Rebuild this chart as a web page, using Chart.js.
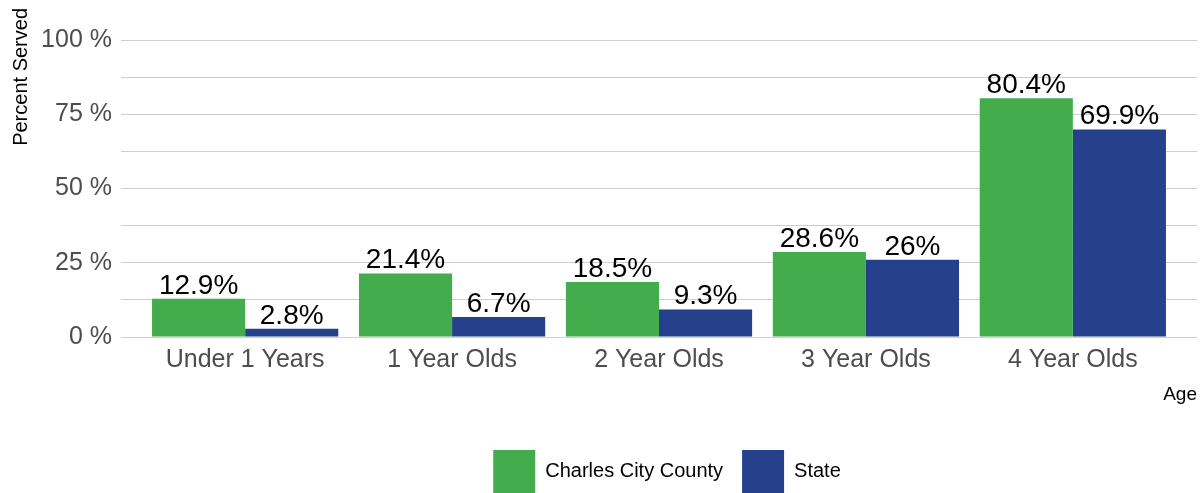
<!DOCTYPE html>
<html>
<head>
<meta charset="utf-8">
<script src="https://cdn.jsdelivr.net/npm/chart.js@4.4.1/dist/chart.umd.min.js"></script>
<style>
  html, body { margin: 0; padding: 0; background: #fff; overflow: hidden; }
  #wrap { width: 1203px; height: 503px; position: relative; }
</style>
</head>
<body>
<div id="wrap"><canvas id="ageChart"></canvas></div>
<script>
// values
var ages = ['Under 1 Years', '1 Year Olds', '2 Year Olds', '3 Year Olds', '4 Year Olds'];
var county = [12.9, 21.4, 18.5, 28.6, 80.4];
var state = [2.8, 6.7, 9.3, 26, 69.9];
var seriesNames = ['Charles City County', 'State'];
var yTicks = [0, 25, 50, 75, 100];

var font = "'Liberation Sans', Arial, sans-serif";

function points(vals) {
    return vals.map(function (v, i) { return { x: i + 1, y: v }; });
}

// value labels above each bar
var barLabels = {
    id: 'barLabels',
    afterDatasetsDraw: function (chart) {
        var ctx = chart.ctx;
        ctx.save();
        ctx.font = '28px ' + font;
        ctx.fillStyle = '#000';
        ctx.textAlign = 'center';
        ctx.textBaseline = 'alphabetic';
        chart.data.datasets.forEach(function (ds, di) {
            chart.getDatasetMeta(di).data.forEach(function (bar, i) {
                ctx.fillText(ds.data[i].y + '%', bar.x, bar.y - 5);
            });
        });
        ctx.restore();
    }
};

// y axis title sits at the top left, above the plot area
var yTitle = {
    id: 'yTitle',
    afterDraw: function (chart) {
        var ctx = chart.ctx;
        ctx.save();
        ctx.translate(21, 8);
        ctx.rotate(-Math.PI / 2);
        ctx.font = '20px ' + font;
        ctx.fillStyle = '#000';
        ctx.textAlign = 'right';
        ctx.textBaseline = 'middle';
        ctx.fillText('Percent Served', 0, 0);
        ctx.restore();
    }
};

// centre the legend under the plot panel instead of the whole canvas
var legendUnderPanel = {
    id: 'legendUnderPanel',
    afterLayout: function (chart) {
        var lg = chart.legend, ca = chart.chartArea;
        if (!lg) return;
        lg.left = ca.left + 8;
        lg.right = ca.right + 8;
        lg.width = lg.right - lg.left;
    }
};

var ctx = document.getElementById('ageChart').getContext('2d');
var myBarChart = new Chart(ctx, {
    type: 'bar',
    data: {
        datasets: [{
            label: seriesNames[0],
            backgroundColor: '#43AC4C',
            data: points(county)
        }, {
            label: seriesNames[1],
            backgroundColor: '#26418C',
            data: points(state)
        }]
    },
    options: {
        responsive: true,
        maintainAspectRatio: false,
        animation: false,
        layout: { padding: { top: 40, right: 6, left: 0, bottom: 0 } },
        datasets: { bar: { categoryPercentage: 0.9, barPercentage: 1 } },
        scales: {
            x: {
                type: 'linear',
                offset: false,
                min: 0.4,
                max: 5.6,
                grid: { display: false },
                border: { display: false },
                afterBuildTicks: function (s) {
                    s.ticks = ages.map(function (a, i) { return { value: i + 1 }; });
                },
                afterFit: function (s) { s.height = 94; },
                ticks: {
                    padding: 0,
                    color: '#4d4d4d',
                    font: { family: font, size: 25 },
                    maxRotation: 0,
                    autoSkip: false,
                    callback: function (v) { return ages[v - 1]; }
                },
                title: {
                    display: true,
                    text: 'Age',
                    align: 'end',
                    color: '#000',
                    font: { family: font, size: 19 },
                    padding: { top: 0, bottom: 25 }
                }
            },
            y: {
                min: 0,
                max: 100,
                border: { display: false },
                grid: { color: '#cfcfcf', lineWidth: 1, drawTicks: false },
                afterFit: function (s) { s.width = 121; },
                ticks: {
                    stepSize: 12.5,
                    padding: 9,
                    color: '#4d4d4d',
                    font: { family: font, size: 25 },
                    callback: function (v) { return yTicks.indexOf(v) >= 0 ? v + ' %' : ''; }
                }
            }
        },
        plugins: {
            tooltip: { enabled: false },
            legend: {
                position: 'bottom',
                labels: {
                    boxWidth: 42,
                    boxHeight: 43,
                    padding: 19,
                    color: '#000',
                    font: { family: font, size: 20 }
                }
            }
        }
    },
    plugins: [barLabels, yTitle, legendUnderPanel]
});
</script>
</body>
</html>
